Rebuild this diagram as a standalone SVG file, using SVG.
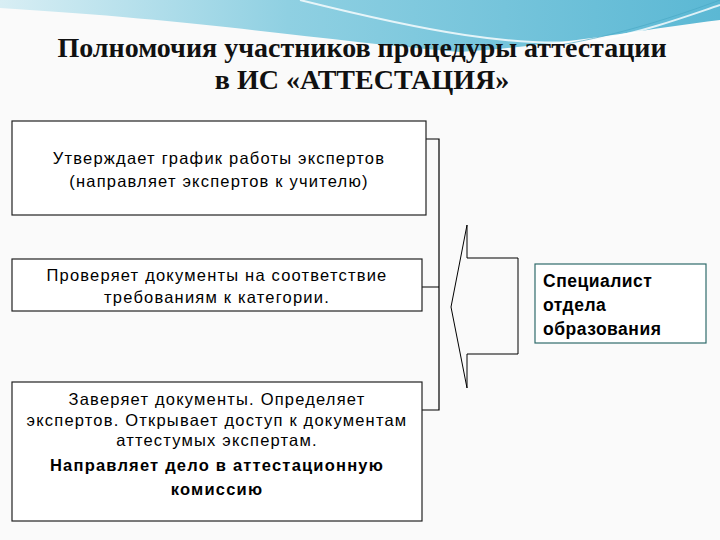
<svg xmlns="http://www.w3.org/2000/svg" width="720" height="540" viewBox="0 0 720 540">
<defs>
<linearGradient id="sky" x1="0" y1="0" x2="1" y2="0">
<stop offset="0" stop-color="#d8eef4"/><stop offset="0.4" stop-color="#8fd0e2"/><stop offset="1" stop-color="#5bb8d4"/>
</linearGradient>
<style>
.box{fill:#fff;stroke:#222;stroke-width:1.2}
.t{font-family:"Liberation Sans",Arial,sans-serif;font-size:16.5px;letter-spacing:1.2px;fill:#000;text-anchor:middle}
.ln{fill:none;stroke:#000;stroke-width:1.2}
</style>
</defs>
<rect width="720" height="540" fill="#fafafa"/>
<path d="M0,0 H720 V20 C640,30 560,45 460,52 C320,40 200,20 0,8 Z" fill="url(#sky)"/>
<path d="M300,0 C420,30 520,50 600,40 C650,30 690,15 720,5" fill="none" stroke="#fff" stroke-width="2" opacity="0.8"/>
<path d="M560,45 C620,35 680,15 720,0" fill="none" stroke="#4aa9c6" stroke-width="1" opacity="0.7"/>
<g font-family="Liberation Serif,Times New Roman,serif" font-weight="bold" font-size="28" text-anchor="middle" fill="#111">
<text x="362" y="57">Полномочия участников процедуры аттестации</text>
<text x="362" y="89">в ИС «АТТЕСТАЦИЯ»</text>
</g>
<g id="connectors">
<path class="ln" d="M426,139 H439 V410 H422 M422,287 H439"/>
<path d="M467,225 L451,307 L467,388 V354 H518 V258 H467 Z" fill="#fafafa" stroke="#000" stroke-width="1"/>
</g>
<g id="n1"><rect class="box" x="12" y="121" width="414" height="94"/>
<text class="t" x="219" y="164">Утверждает график работы экспертов</text>
<text class="t" x="219" y="187">(направляет экспертов к учителю)</text></g>
<g id="n2"><rect class="box" x="12" y="259" width="410" height="52"/>
<text class="t" x="217" y="281">Проверяет документы на соответствие</text>
<text class="t" x="217" y="303">требованиям к категории.</text></g>
<g id="n3"><rect class="box" x="12" y="382" width="410" height="139"/>
<text class="t" x="217" y="405">Заверяет документы. Определяет</text>
<text class="t" x="217" y="426" letter-spacing="0.6">экспертов. Открывает доступ к документам</text>
<text class="t" x="217" y="446">аттестумых экспертам.</text>
<text class="t" x="217" y="471" font-size="17" font-weight="bold" letter-spacing="0.8">Направляет дело в аттестационную</text>
<text class="t" x="217" y="495" font-size="17" font-weight="bold" letter-spacing="0.8">комиссию</text></g>
<g id="n4"><rect x="535" y="264" width="171" height="79" fill="#fff" stroke="#2f6b6b" stroke-width="1.2"/>
<g font-family="Liberation Sans,Arial,sans-serif" font-weight="bold" font-size="17.5" letter-spacing="0.5"><text x="543" y="287">Специалист</text><text x="543" y="311">отдела</text><text x="543" y="335">образования</text></g></g>
</svg>
